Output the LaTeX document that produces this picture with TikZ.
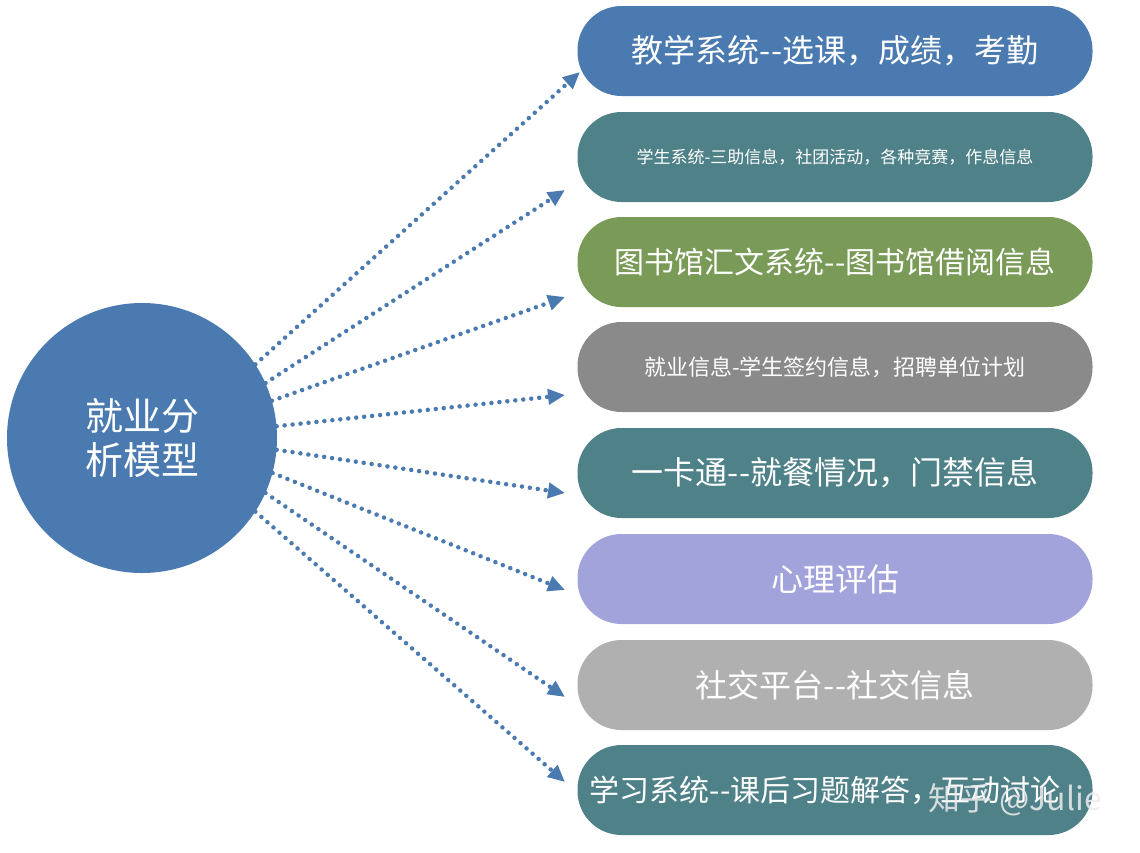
\documentclass[tikz,border=0pt]{standalone}
\usepackage{fontspec}
\setmainfont{Noto Sans CJK SC}
\usetikzlibrary{arrows.meta}
\definecolor{cblue}{HTML}{4A7AB0}
\definecolor{cteal}{HTML}{4F8189}
\definecolor{cgreen}{HTML}{7A9A57}
\definecolor{cgray}{HTML}{8A8A8A}
\definecolor{clav}{HTML}{A3A3DC}
\definecolor{clgray}{HTML}{B0B0B0}
\newcommand{\dd}{{-}{-}}
\begin{document}
\begin{tikzpicture}[x=1pt,y=-1pt,
  pill/.style={rounded corners=44pt,minimum width=515pt,minimum height=90pt,text=white,inner sep=0pt,anchor=center},
  conn/.style={cblue,line width=4.5pt,line cap=round,dash pattern=on 0pt off 8pt,-{Triangle[length=17pt,width=15pt,line cap=butt]}}]
\useasboundingbox (0,0) rectangle (1140,852);
\node[circle,fill=cblue,minimum size=270pt,text=white,font=\fontsize{38}{44}\selectfont,align=center] (c) at (142,438) {就业分\\析模型};
\node[pill,fill=cblue,font=\fontsize{32}{36}\selectfont] (p1) at (835,51) {教学系统\dd 选课，成绩，考勤};
\node[pill,fill=cteal,font=\fontsize{17}{20}\selectfont] (p2) at (835,157) {学生系统-三助信息，社团活动，各种竞赛，作息信息};
\node[pill,fill=cgreen,font=\fontsize{30}{34}\selectfont] (p3) at (835,262) {图书馆汇文系统\dd 图书馆借阅信息};
\node[pill,fill=cgray,font=\fontsize{22}{26}\selectfont] (p4) at (835,367) {就业信息-学生签约信息，招聘单位计划};
\node[pill,fill=cteal,font=\fontsize{32}{36}\selectfont] (p5) at (835,473) {一卡通\dd 就餐情况，门禁信息};
\node[pill,fill=clav,font=\fontsize{32}{36}\selectfont] (p6) at (835,579) {心理评估};
\node[pill,fill=clgray,font=\fontsize{32}{36}\selectfont] (p7) at (835,685) {社交平台\dd 社交信息};
\node[pill,fill=cteal,font=\fontsize{30}{34}\selectfont] (p8) at (835,790) {\hspace*{-20pt}学习系统\dd 课后习题解答，互动讨论};
\node[text=white!85!gray,font=\fontsize{32}{36}\selectfont,opacity=0.85] (wm) at (1015,800) {知乎 @Julie};
\coordinate (e1) at (580,72);
\coordinate (e2) at (565,190);
\coordinate (e3) at (565,297);
\coordinate (e4) at (565,395);
\coordinate (e5) at (565,493);
\coordinate (e6) at (565,590);
\coordinate (e7) at (565,697);
\coordinate (e8) at (565,782);
\draw[conn] (c.33) -- (e1);
\draw[conn] (c.24) -- (e2);
\draw[conn] (c.16) -- (e3);
\draw[conn] (c.5) -- (e4);
\draw[conn] (c.-5) -- (e5);
\draw[conn] (c.-15) -- (e6);
\draw[conn] (c.-24) -- (e7);
\draw[conn] (c.-33) -- (e8);
\end{tikzpicture}
\end{document}
